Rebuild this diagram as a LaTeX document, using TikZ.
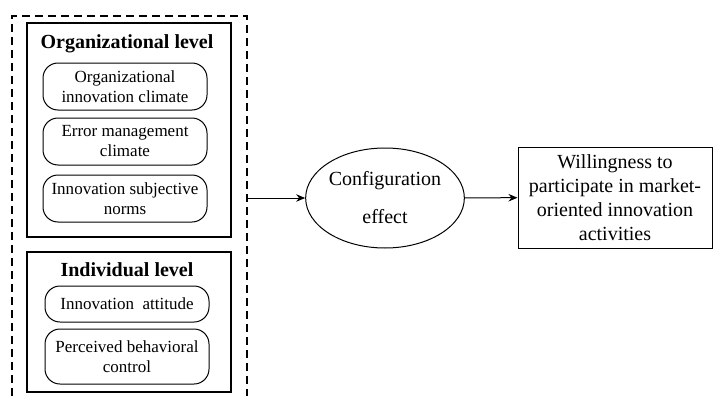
\documentclass[tikz,border=0pt]{standalone}
\usepackage{fontspec}
\setmainfont{Liberation Serif}
\usetikzlibrary{shapes.geometric,arrows.meta}
\begin{document}
\begin{tikzpicture}[x=1pt,y=-1pt,
  lvlbox/.style={draw,line width=1.3pt,inner sep=0pt},
  factor/.style={draw,line width=1pt,rounded corners=15pt,align=center,inner sep=0pt,
    font=\fontsize{17}{20}\selectfont},
  title/.style={font=\fontsize{20}{24}\selectfont\bfseries},
  big/.style={font=\fontsize{20}{24}\selectfont,align=center},
  arr/.style={line width=1pt,-{Stealth[length=9pt,width=7.5pt]}}]
\useasboundingbox (0,0) rectangle (714,396);
% dashed outer group
\draw[line width=1.3pt,dash pattern=on 8pt off 5pt] (12,396) -- (12,16) -- (247,16) -- (247,396);
% organizational level
\node[lvlbox,minimum width=204pt,minimum height=214pt] (org) at (129,130) {};
\node[title] (orgt) at (127,44) {Organizational level};
\node[factor,minimum width=164pt,minimum height=47pt] (oic) at (125,86.5) {Organizational\\innovation climate};
\node[factor,minimum width=164pt,minimum height=47pt] (emc) at (125,141.5) {Error management\\climate};
\node[factor,minimum width=164pt,minimum height=47pt] (isn) at (125,198.5) {Innovation subjective\\norms};
% individual level
\node[lvlbox,minimum width=204pt,minimum height=140pt] (ind) at (129,322) {};
\node[title] (indt) at (127,270) {Individual level};
\node[factor,minimum width=164pt,minimum height=36pt] (ia) at (127,304) {Innovation\ \ attitude};
\node[factor,minimum width=164pt,minimum height=55pt] (pbc) at (127,356.5) {Perceived behavioral\\control};
% right part
\coordinate (grp) at (247,198);
\node[draw,ellipse,line width=1pt,minimum width=154pt,minimum height=100pt,inner sep=0pt,big,
  font=\fontsize{20}{38}\selectfont] (cfg) at (385,198) {Configuration\\effect};
\node[draw,line width=1pt,minimum width=194pt,minimum height=101pt,inner sep=0pt,big] (will) at (615,197.5)
  {Willingness to\\participate in market-\\oriented innovation\\activities};
\draw[arr] (grp) -- (cfg);
\draw[arr] (cfg) -- (will);
\end{tikzpicture}
\end{document}
